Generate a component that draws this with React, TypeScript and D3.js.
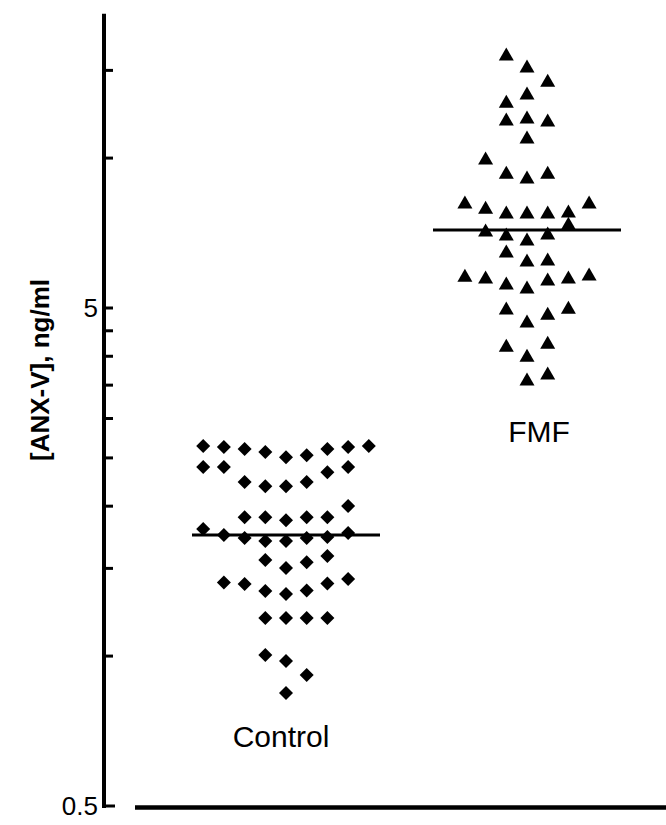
import * as d3 from "d3";
import React from "react";

// groups on the x axis
const groups = ["Control", "FMF"];

// [ANX-V] values, ng/ml, with their column slot in the swarm
const controlValues = [
  2.641, 2.629, 2.604, 2.568, 2.509, 2.532, 2.604, 2.629, 2.641,
  2.396, 2.396, 2.341, 2.396,
  2.236, 2.194, 2.194, 2.236,
  2.001,
  1.901, 1.901, 1.875, 1.901, 1.901,
  1.799, 1.75, 1.726, 1.702, 1.702, 1.726, 1.734, 1.766,
  1.559, 1.502, 1.544, 1.588,
  1.405, 1.395, 1.351, 1.332, 1.354, 1.398, 1.428,
  1.192, 1.192, 1.192, 1.192,
  1.005, 0.977, 0.916, 0.843,
];
const controlSlots = [
  -4, -3, -2, -1, 0, 1, 2, 3, 4,
  -4, -3, 2, 3,
  -2, -1, 0, 1,
  3,
  -2, -1, 0, 1, 2,
  -4, -3, -2, -1, 0, 1, 2, 3,
  -1, 0, 1, 2,
  -3, -2, -1, 0, 1, 2, 3,
  -1, 0, 1, 2,
  -1, 0, 1, 0,
];

const fmfValues = [
  16.18, 15.3, 14.34, 13.51, 13.01, 11.98, 12.09, 11.92, 11.02, 10.0, 9.37, 9.16, 9.37,
  8.16, 7.97, 7.79, 7.79, 7.79, 7.83, 8.16,
  7.4,
  7.17, 7.04, 6.88, 7.07,
  6.51, 6.24, 6.27,
  5.82, 5.77, 5.61, 5.51, 5.72, 5.77, 5.85,
  5.0, 4.71, 4.88, 5.02,
  4.21, 4.02, 4.27,
  3.6, 3.7,
];
const fmfSlots = [
  -1, 0, 1, 0, -1, -1, 0, 1, 0, -2, -1, 0, 1,
  -3, -2, -1, 0, 1, 2, 3,
  2,
  -2, -1, 0, 1,
  -1, 0, 1,
  -3, -2, -1, 0, 1, 2, 3,
  -1, 0, 1, 2,
  -1, 0, 1,
  0, 1,
];

const medians = [1.75, 7.17];

const yTicks = [0.5, 1, 1.5, 2, 2.5, 3, 3.5, 4, 4.5, 5, 10, 15];
const yLabelled = [0.5, 5];
const yTop = 19.5;
const yTitle = "[ANX-V], ng/ml";

const W = 666;
const H = 825;
const font = "Arial, 'Liberation Sans', sans-serif";

const App = () => {
  const y = d3.scaleLog().domain([0.5, 5]).range([806, 308]);
  const x = d3.scalePoint().domain(groups).range([286, 527]);
  const slotW = 20.7;
  const axisX = 104;

  const tri = "M0,-6.5L7.5,6.5L-7.5,6.5Z";
  const dia = "M0,-7L7,0L0,7L-7,0Z";

  const sets = [
    { name: "Control", values: controlValues, slots: controlSlots, path: dia, dx: -5, labelY: 747 },
    { name: "FMF", values: fmfValues, slots: fmfSlots, path: tri, dx: 12, labelY: 442 },
  ];

  return (
    <svg width={W} height={H} style={{ position: "absolute", left: 0, top: 0, background: "#fff" }}>
      {/* y axis */}
      <line x1={axisX} x2={axisX} y1={y(yTop)} y2={y(0.5) + 2} stroke="#000" strokeWidth={4} />
      {yTicks.map((t) => (
        <line key={t} x1={axisX} x2={axisX + (t === 0.5 ? 11 : 9)} y1={y(t)} y2={y(t)} stroke="#000" strokeWidth={3} />
      ))}
      {yLabelled.map((t) => (
        <text key={t} x={axisX - 6} y={y(t)} dy="0.36em" textAnchor="end" fontFamily={font} fontSize={26}>
          {t}
        </text>
      ))}
      <text
        transform={`translate(49,370) rotate(-90)`}
        textAnchor="middle"
        fontFamily={font}
        fontWeight="bold"
        fontSize={26}
      >
        {yTitle}
      </text>

      {/* x axis */}
      <line x1={135} x2={W} y1={y(0.5) + 1.5} y2={y(0.5) + 1.5} stroke="#000" strokeWidth={4.5} />

      {sets.map((s, gi) => {
        const cx = x(s.name)!;
        return (
          <g key={s.name}>
            {s.values.map((v, i) => (
              <path key={i} d={s.path} transform={`translate(${cx + s.slots[i] * slotW},${y(v)})`} fill="#000" />
            ))}
            <line x1={cx - 94} x2={cx + 94} y1={y(medians[gi])} y2={y(medians[gi])} stroke="#000" strokeWidth={3} />
            <text x={cx + s.dx} y={s.labelY} textAnchor="middle" fontFamily={font} fontSize={30}>
              {s.name}
            </text>
          </g>
        );
      })}
    </svg>
  );
};

export default App;
